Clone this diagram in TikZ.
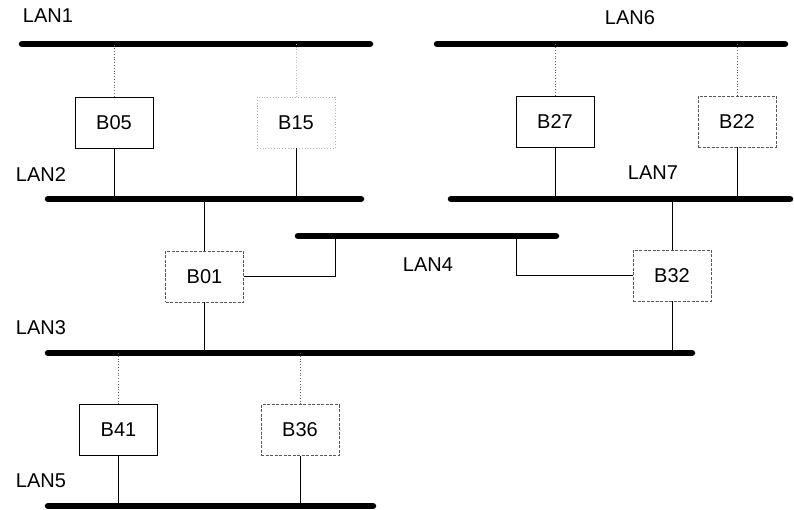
\documentclass[tikz,border=0pt]{standalone}
\usepackage{fontspec}
\setmainfont{Liberation Sans}
\begin{document}
\begin{tikzpicture}[x=1pt,y=-1pt,
  bus/.style={line width=6.5pt,line cap=round},
  link/.style={line width=0.8pt},
  dlink/.style={line width=0.8pt,dotted,black!60},
  flink/.style={line width=0.6pt,dotted,black!25},
  solidbox/.style={draw,line width=0.8pt,minimum width=78pt,minimum height=51pt,inner sep=0pt,font=\fontsize{20}{24}\selectfont},
  dashbox/.style={solidbox,draw=black!65,dash pattern=on 3pt off 1.5pt},
  faintbox/.style={solidbox,draw=black!30,dotted},
  lbl/.style={font=\fontsize{20}{24}\selectfont,inner sep=0pt}]
\useasboundingbox (0,0) rectangle (794,510);

% buses
\coordinate (lan1w) at (22,44);  \coordinate (lan1e) at (370,44);
\coordinate (lan2w) at (48,199); \coordinate (lan2e) at (361,199);
\coordinate (lan6w) at (437,44); \coordinate (lan6e) at (785,44);
\coordinate (lan7w) at (451,199); \coordinate (lan7e) at (790,199);
\coordinate (lan4w) at (298,236); \coordinate (lan4e) at (556,236);
\coordinate (lan3w) at (48,353); \coordinate (lan3e) at (692,353);
\coordinate (lan5w) at (48,506); \coordinate (lan5e) at (373,506);
\foreach \b in {lan1,lan2,lan6,lan7,lan4,lan3,lan5}
  \draw[bus] (\b w) -- (\b e);

% labels
\node[lbl] (t1) at (48,16) {LAN1};
\node[lbl] (t2) at (41,175) {LAN2};
\node[lbl] (t6) at (630,18) {LAN6};
\node[lbl] (t7) at (653,173) {LAN7};
\node[lbl] (t4) at (428,265) {LAN4};
\node[lbl] (t3) at (41,328) {LAN3};
\node[lbl] (t5) at (41,481) {LAN5};

% bridges
\node[solidbox] (b05) at (114,122.5) {B05};
\node[faintbox] (b15) at (296,122.5) {B15};
\node[solidbox] (b27) at (555,121.5) {B27};
\node[dashbox] (b22) at (737,121.5) {B22};
\node[dashbox] (b01) at (204.5,276.5) {B01};
\node[dashbox] (b32) at (672,275.5) {B32};
\node[solidbox] (b41) at (118.5,430) {B41};
\node[dashbox] (b36) at (300,430) {B36};

% connectors
\draw[dlink] (b05.north) -- (b05.north |- lan1w);
\draw[link] (b05.south) -- (b05.south |- lan2w);
\draw[flink] (b15.north) -- (b15.north |- lan1w);
\draw[link] (b15.south) -- (b15.south |- lan2w);
\draw[dlink] (b27.north) -- (b27.north |- lan6w);
\draw[link] (b27.south) -- (b27.south |- lan7w);
\draw[dlink] (b22.north) -- (b22.north |- lan6w);
\draw[link] (b22.south) -- (b22.south |- lan7w);
\draw[link] (b01.north) -- (b01.north |- lan2w);
\draw[link] (b01.south) -- (b01.south |- lan3w);
\draw[link] (b01.east) -| (335,236);
\draw[link] (b32.west) -| (516,236);
\draw[link] (b32.north) -- (b32.north |- lan7w);
\draw[link] (b32.south) -- (b32.south |- lan3w);
\draw[dlink] (b41.north) -- (b41.north |- lan3w);
\draw[link] (b41.south) -- (b41.south |- lan5w);
\draw[dlink] (b36.north) -- (b36.north |- lan3w);
\draw[link] (b36.south) -- (b36.south |- lan5w);
\end{tikzpicture}
\end{document}
